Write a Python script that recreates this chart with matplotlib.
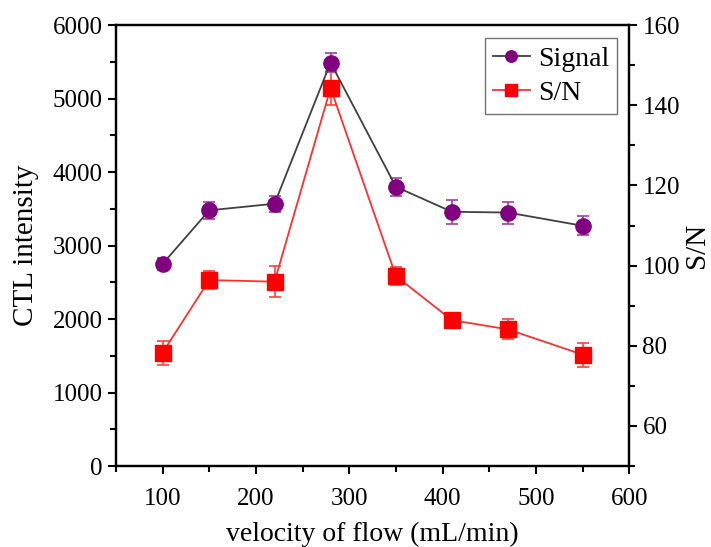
import matplotlib.pyplot as plt
from matplotlib.ticker import MultipleLocator

plt.rcParams['font.family'] = ['Liberation Serif', 'DejaVu Serif']
plt.rcParams['mathtext.fontset'] = 'stix'

velocity = [100, 150, 220, 280, 350, 410, 470, 550]
signal = [2750, 3480, 3570, 5490, 3800, 3460, 3450, 3270]
signal_err = [80, 120, 110, 130, 120, 160, 150, 130]
snr = [78.3, 96.4, 96.0, 144.3, 97.4, 86.4, 84.1, 77.8]
snr_err = [3.0, 2.2, 3.8, 4.2, 2.2, 1.5, 2.5, 3.0]

fig = plt.figure(figsize=(7.11, 5.47), dpi=100)
ax = fig.add_axes([0.163, 0.148, 0.722, 0.806])
ax2 = ax.twinx()

l1 = ax.errorbar(velocity, signal, yerr=signal_err, color='#404040', lw=1.3,
                 marker='o', ms=11, mfc='#800080', mec='#800080',
                 ecolor='#a040a0', elinewidth=1.2, capsize=4, capthick=1.2,
                 label='Signal')
l2 = ax2.errorbar(velocity, snr, yerr=snr_err, color='#ff3030', lw=1.3,
                  marker='s', ms=11, mfc='#ff0000', mec='#ff0000',
                  ecolor='#ff4040', elinewidth=1.2, capsize=4, capthick=1.2,
                  label='S/N')

ax.set_xlim(50, 600)
ax.set_ylim(0, 6000)
ax2.set_ylim(50, 160)

ax.xaxis.set_major_locator(MultipleLocator(100))
ax.xaxis.set_minor_locator(MultipleLocator(50))
ax.yaxis.set_major_locator(MultipleLocator(1000))
ax.yaxis.set_minor_locator(MultipleLocator(500))
ax2.yaxis.set_major_locator(MultipleLocator(20))
ax2.yaxis.set_minor_locator(MultipleLocator(10))
ax.set_xticks([100, 200, 300, 400, 500, 600])

for a in (ax, ax2):
    a.tick_params(which='major', direction='out', length=6, width=1.5, labelsize=18)
    a.tick_params(which='minor', direction='out', length=4, width=1.5)
    for s in a.spines.values():
        s.set_linewidth(1.6)
ax.tick_params(axis='x', pad=10)

ax.set_xlabel('velocity of flow (mL/min)', fontsize=20, labelpad=8)
ax.set_ylabel('CTL intensity', fontsize=21, labelpad=10)
ax2.set_ylabel('S/N', fontsize=21, labelpad=3)

leg = ax.legend([l1[0], l2[0]], ['Signal', 'S/N'], loc='upper right', fontsize=20,
                frameon=True, fancybox=False, edgecolor='#505050',
                handlelength=1.3, handletextpad=0.3, borderpad=0.3,
                labelspacing=0.3, markerscale=0.75, borderaxespad=0,
                bbox_to_anchor=(0.977, 0.97))
leg.get_frame().set_linewidth(1.0)
ax.set_zorder(ax2.get_zorder() + 1)
ax.patch.set_visible(False)

fig.savefig('out.png', dpi=100)
